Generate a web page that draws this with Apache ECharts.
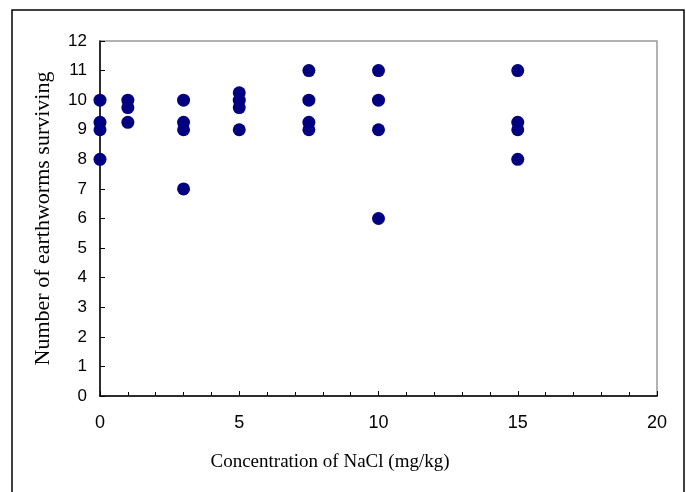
<!DOCTYPE html>
<html>
<head>
<meta charset="utf-8">
<script src="https://cdn.jsdelivr.net/npm/echarts@6/dist/echarts.min.js"></script>
<style>html,body{margin:0;padding:0;background:#fff;}#c{width:686px;height:492px;}</style>
</head>
<body>
<div id="c"></div>
<script>
const concentrations = [0,0,0,0, 1,1,1, 3,3,3,3, 5,5,5,5, 7.5,7.5,7.5,7.5, 10,10,10,10, 15,15,15,15];
const survivors      = [10,9.25,9,8, 10,9.75,9.25, 10,9.25,9,7, 10.25,10,9.75,9, 11,10,9.25,9, 11,10,9,6, 11,9.25,9,8];
const xTitle = 'Concentration of NaCl (mg/kg)';
const yTitle = 'Number of earthworms surviving';

const points = concentrations.map((c, i) => [c, survivors[i]]);
const chart = echarts.init(document.getElementById('c'), null, {renderer: 'canvas'});
chart.setOption({
  animation: false,
  backgroundColor: '#fff',
  graphic: [{
    type: 'rect', shape: {x: 12, y: 10, width: 672, height: 495},
    style: {fill: 'none', stroke: '#000', lineWidth: 1.5}, silent: true
  }],
  grid: {left: 100, right: 29, top: 41, bottom: 96, show: true, borderColor: '#999', borderWidth: 1.5, backgroundColor: 'transparent'},
  xAxis: {
    type: 'value', min: 0, max: 20, interval: 5,
    name: xTitle, nameLocation: 'middle', nameGap: 57,
    nameTextStyle: {fontFamily: 'Liberation Serif', fontSize: 19, color: '#000', padding: [0, 97, 0, 0]},
    axisLine: {show: true, onZero: false, lineStyle: {color: '#000', width: 1.5}},
    axisTick: {show: true, inside: true, length: 5, lineStyle: {color: '#000'}},
    minorTick: {show: true, splitNumber: 5, length: 4, lineStyle: {color: '#000'}},
    axisLabel: {fontFamily: 'Liberation Sans', fontSize: 18, color: '#000', margin: 18},
    splitLine: {show: false}
  },
  yAxis: {
    type: 'value', min: 0, max: 12, interval: 1,
    name: yTitle, nameLocation: 'middle', nameGap: 46,
    nameTextStyle: {fontFamily: 'Liberation Serif', fontSize: 22, color: '#000'},
    axisLine: {show: true, onZero: false, lineStyle: {color: '#000', width: 1.5}},
    axisTick: {show: true, inside: true, length: 5, lineStyle: {color: '#000'}},
    axisLabel: {fontFamily: 'Liberation Sans', fontSize: 17, color: '#000', margin: 13},
    splitLine: {show: false}
  },
  series: [{
    type: 'scatter', data: points, symbol: 'circle', symbolSize: 13,
    itemStyle: {color: '#000080', opacity: 1}
  }]
});
</script>
</body>
</html>
